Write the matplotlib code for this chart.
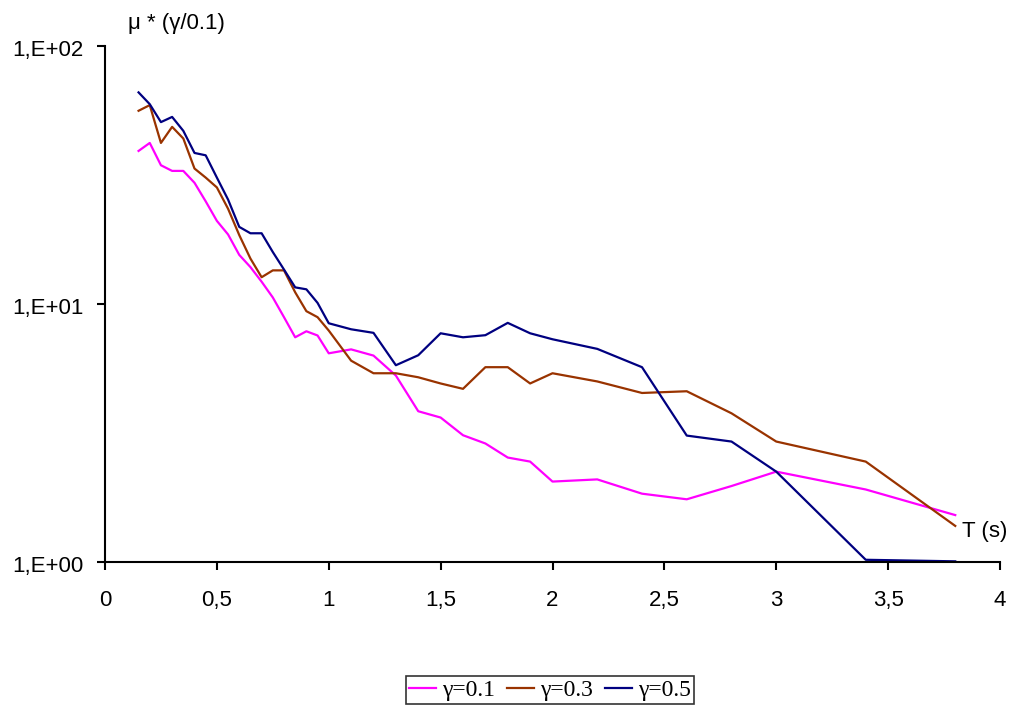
import matplotlib.pyplot as plt
import matplotlib.transforms as mtransforms
from matplotlib.ticker import NullLocator, FixedLocator

# periods T (s)
T = [0.15, 0.2, 0.25, 0.3, 0.35, 0.4, 0.45, 0.5, 0.55, 0.6, 0.65, 0.7, 0.75, 0.8,
     0.85, 0.9, 0.95, 1.0, 1.1, 1.2, 1.3, 1.4, 1.5, 1.6, 1.7, 1.8, 1.9, 2.0,
     2.2, 2.4, 2.6, 2.8, 3.0, 3.4, 3.8]

mu_g01 = [39.2, 42.1, 34.5, 32.8, 32.8, 29.5, 25.0, 21.0, 18.6, 15.5, 13.9, 12.2, 10.6, 8.89,
          7.43, 7.84, 7.55, 6.44, 6.67, 6.31, 5.28, 3.84, 3.63, 3.10, 2.88, 2.54, 2.45, 2.05,
          2.09, 1.84, 1.75, 1.97, 2.24, 1.91, 1.52]
mu_g03 = [56.1, 59.0, 42.1, 48.6, 43.8, 33.5, 30.9, 28.3, 23.4, 18.5, 15.0, 12.7, 13.5, 13.5,
          11.1, 9.38, 8.89, 7.89, 6.03, 5.39, 5.39, 5.20, 4.92, 4.69, 5.69, 5.69, 4.92, 5.39,
          5.01, 4.52, 4.59, 3.77, 2.93, 2.45, 1.38]
mu_g05 = [66.1, 59.5, 50.7, 53.1, 46.9, 38.5, 37.7, 30.9, 25.4, 19.9, 18.8, 18.8, 15.9, 13.6,
          11.6, 11.4, 10.1, 8.42, 7.98, 7.73, 5.79, 6.33, 7.70, 7.43, 7.57, 8.45, 7.70, 7.30,
          6.70, 5.69, 3.09, 2.93, 2.24, 1.02, 1.006]

x_ticks = [0, 0.5, 1, 1.5, 2, 2.5, 3, 3.5, 4]
x_labels = ["0", "0,5", "1", "1,5", "2", "2,5", "3", "3,5", "4"]
y_ticks = [1, 10, 100]
y_labels = ["1,E+00", "1,E+01", "1,E+02"]

fig = plt.figure(figsize=(10.13, 7.09), dpi=100)
ax = fig.add_axes([105 / 1013, 1 - 562 / 709, 895 / 1013, 516 / 709])

ax.plot(T, mu_g01, color="#FF00FF", lw=1.6, label="γ=0.1")
ax.plot(T, mu_g03, color="#993300", lw=1.6, label="γ=0.3")
ax.plot(T, mu_g05, color="#000080", lw=1.6, label="γ=0.5")

ax.set_yscale("log")
ax.set_xlim(0, 4)
ax.set_ylim(1, 100)
ax.yaxis.set_major_locator(FixedLocator(y_ticks))
ax.yaxis.set_minor_locator(NullLocator())
ax.set_yticklabels(y_labels)
ax.set_xticks(x_ticks)
ax.set_xticklabels(x_labels)

for s in ("top", "right"):
    ax.spines[s].set_visible(False)
for s in ("left", "bottom"):
    ax.spines[s].set_linewidth(1.5)
    ax.spines[s].set_color("black")
ax.tick_params(direction="out", length=5.5, width=1.5, labelsize=16)
ax.tick_params(axis="x", pad=14.5)
ax.tick_params(axis="y", pad=10)

# nudge y labels so the digits centre on their ticks
shift = mtransforms.ScaledTranslation(0, -1.5 / 72, fig.dpi_scale_trans)
for lbl in ax.get_yticklabels():
    lbl.set_transform(lbl.get_transform() + shift)
for lbl in ax.get_xticklabels() + ax.get_yticklabels():
    lbl.set_fontfamily("Liberation Sans")

fig.text(128 / 1013, 1 - 24 / 709, "μ * (γ/0.1)", fontsize=16,
         family="Liberation Sans", va="center", ha="left")
fig.text(962 / 1013, 1 - 532 / 709, "T (s)", fontsize=16,
         family="Liberation Sans", va="center", ha="left")

leg = fig.legend(loc="center", bbox_to_anchor=(550 / 1013, 1 - 690 / 709), ncol=3,
                 frameon=True, fancybox=False, handlelength=1.15, handletextpad=0.25,
                 columnspacing=0.5, borderpad=0.15, borderaxespad=0,
                 prop={"family": "Liberation Serif", "size": 17})
leg.get_frame().set_edgecolor("black")
leg.get_frame().set_linewidth(1.2)

fig.savefig("out.png", dpi=100)
